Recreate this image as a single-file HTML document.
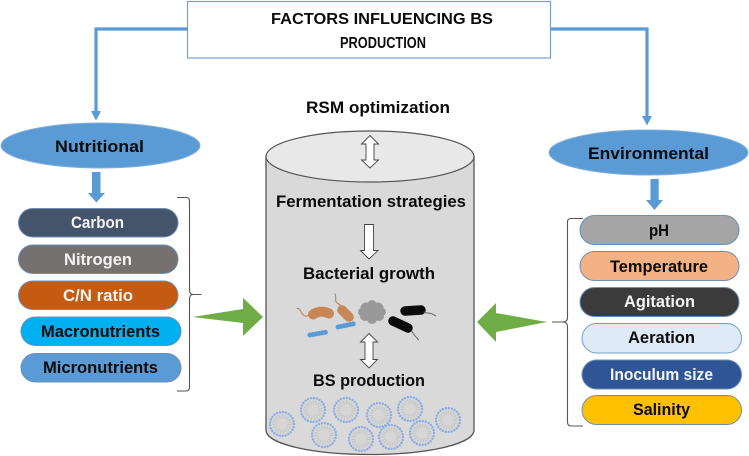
<!DOCTYPE html>
<html>
<head>
<meta charset="utf-8">
<style>
html,body{margin:0;padding:0;background:#fff;width:749px;height:456px;overflow:hidden}
svg{display:block}
text{font-family:"Liberation Sans",sans-serif;font-weight:bold;font-size:17px}
.w{fill:#f4f4f4}
.k{fill:#0b0b0b}
.t{font-size:16px}
</style>
</head>
<body>
<svg width="749" height="456" viewBox="0 0 749 456" xmlns="http://www.w3.org/2000/svg">
<rect width="749" height="456" fill="#fff"/>

<!-- connectors -->
<path d="M187 29H96V113M550 29H647V118" fill="none" stroke="#5b9bd5" stroke-width="3.200"/>
<path d="M91 111H101L96 120.500Z M642 116H652L647 125.500Z" fill="#5b9bd5"/>

<!-- title -->
<rect x="187.500" y="1.500" width="363" height="56.500" fill="#fff" stroke="#7a9fce" stroke-width="1.200"/>
<text x="271" y="24" textLength="222" lengthAdjust="spacingAndGlyphs" class="k t">FACTORS INFLUENCING  BS</text>
<text x="340" y="48" textLength="86" lengthAdjust="spacingAndGlyphs" class="k t">PRODUCTION</text>

<!-- ellipses -->
<ellipse cx="100.500" cy="145.500" rx="99.500" ry="22.500" fill="#5b9bd5" stroke="#7fb0dc" stroke-width="1"/>
<ellipse cx="648.500" cy="152.500" rx="99.500" ry="22.500" fill="#5b9bd5" stroke="#7fb0dc" stroke-width="1"/>
<text x="55" y="152" textLength="89" lengthAdjust="spacingAndGlyphs" class="k">Nutritional</text>
<text x="588" y="159" textLength="121" lengthAdjust="spacingAndGlyphs" class="k">Environmental</text>

<!-- block arrows -->
<path d="M92 172H100.500V193H105L96.300 202.500L88 193H92Z" fill="#5b9bd5"/>
<path d="M650.500 179H658.700V200H663L654.500 210L646 200H650.500Z" fill="#5b9bd5"/>

<!-- left pills -->
<rect x="18.500" y="208.500" width="159.500" height="28.500" rx="14.250" fill="#44546a" stroke="#6f8fb5" stroke-width="1"/>
<rect x="18.500" y="245" width="159.500" height="28.500" rx="14.250" fill="#767171" stroke="#6f8fb5" stroke-width="1"/>
<rect x="18.500" y="281" width="159.500" height="28.500" rx="14.250" fill="#c55a11" stroke="#6f8fb5" stroke-width="1"/>
<rect x="21" y="317" width="160" height="28.500" rx="14.250" fill="#00b0f0" stroke="#6f8fb5" stroke-width="1"/>
<rect x="21" y="353.500" width="160" height="28.500" rx="14.250" fill="#5b9bd5" stroke="#6f8fb5" stroke-width="1"/>
<text x="71" y="228" textLength="53" lengthAdjust="spacingAndGlyphs" class="w">Carbon</text>
<text x="64" y="265" textLength="68" lengthAdjust="spacingAndGlyphs" class="w">Nitrogen</text>
<text x="63" y="301" textLength="70" lengthAdjust="spacingAndGlyphs" class="w">C/N ratio</text>
<text x="41" y="337" textLength="119" lengthAdjust="spacingAndGlyphs" class="k">Macronutrients</text>
<text x="43" y="373" textLength="115" lengthAdjust="spacingAndGlyphs" class="k">Micronutrients</text>

<!-- right pills -->
<rect x="580" y="215.500" width="159" height="29" rx="14.500" fill="#a5a5a5" stroke="#6f8fb5" stroke-width="1"/>
<rect x="580" y="251.500" width="159" height="29" rx="14.500" fill="#f4b183" stroke="#6f8fb5" stroke-width="1"/>
<rect x="580" y="287.500" width="159" height="29" rx="14.500" fill="#3b3b3b" stroke="#6f8fb5" stroke-width="1"/>
<rect x="582" y="323.500" width="159.500" height="29.500" rx="14.700" fill="#deebf7" stroke="#6f9fd0" stroke-width="1"/>
<rect x="582" y="360" width="159.500" height="29" rx="14.500" fill="#2f5597" stroke="#6f8fb5" stroke-width="1"/>
<rect x="582" y="395.500" width="159.500" height="29" rx="14.500" fill="#ffc000" stroke="#6f8fb5" stroke-width="1"/>
<text x="649" y="236" textLength="20" lengthAdjust="spacingAndGlyphs" class="k">pH</text>
<text x="610" y="272" textLength="98" lengthAdjust="spacingAndGlyphs" class="k">Temperature</text>
<text x="624" y="307" textLength="71" lengthAdjust="spacingAndGlyphs" class="w">Agitation</text>
<text x="628" y="343" textLength="67" lengthAdjust="spacingAndGlyphs" class="k">Aeration</text>
<text x="610" y="380" textLength="103" lengthAdjust="spacingAndGlyphs" class="w">Inoculum size</text>
<text x="633" y="415" textLength="57" lengthAdjust="spacingAndGlyphs" class="k">Salinity</text>

<!-- braces -->
<path d="M177 197.500H186Q189.500 197.500 189.500 201V290Q189.500 294.500 193 294.500H201.500M189.500 299V387Q189.500 391 186 391H177M193 294.500Q189.500 294.500 189.500 299" fill="none" stroke="#555" stroke-width="1.100"/>
<path d="M583 218.500H571Q567.500 218.500 567.500 222V317Q567.500 322 563 322H552M567.500 327V422Q567.500 426 571 426H583M563 322Q567.500 322 567.500 327" fill="none" stroke="#555" stroke-width="1.100"/>

<!-- green arrows -->
<path d="M192.500 317L243 309V297.700L263 317L243 336V323Z" fill="#70ad47"/>
<path d="M547 322L496 313V303L477 322L496 342V332Z" fill="#70ad47"/>

<!-- cylinder -->
<path d="M266 156.500V430C266 444 312 454.500 370 454.500C428 454.500 474 444 474 430V156.500Z" fill="#d9d9d9" stroke="#555" stroke-width="1.300"/>
<ellipse cx="370" cy="156.500" rx="104" ry="25.500" fill="#e8e8e8" stroke="#555" stroke-width="1.200"/>

<!-- cylinder labels -->
<text x="306" y="113" textLength="144" lengthAdjust="spacingAndGlyphs" class="k">RSM optimization</text>
<text x="276" y="207" textLength="190" lengthAdjust="spacingAndGlyphs" class="k">Fermentation strategies</text>
<text x="303" y="279" textLength="132" lengthAdjust="spacingAndGlyphs" class="k">Bacterial growth</text>
<text x="313" y="386" textLength="112" lengthAdjust="spacingAndGlyphs" class="k">BS production</text>

<!-- white arrows -->
<path d="M370 135.500L378.500 144H374V160H378.500L370 168L361.500 160H366V144H361.500Z" fill="#fff" stroke="#444" stroke-width="0.900"/>
<path d="M364.500 224.500H373.500V250.500H378L369 259L360.500 250.500H364.500Z" fill="#fff" stroke="#444" stroke-width="0.900"/>
<path d="M369 333.500L377.500 342H373V359.500H377.500L369 368L360.500 359.500H365V342H360.500Z" fill="#fff" stroke="#444" stroke-width="0.900"/>

<!-- bacteria -->
<g fill="none" stroke-linecap="round">
  <path d="M297 308.500C301 308 301 315 305 316C307 316.500 308 315 310 315" stroke="#b98055" stroke-width="1.100"/>
  <path d="M313 314.500C318 311 324 311 329 313.500" stroke="#c68656" stroke-width="10"/>
  <path d="M335 294C337 297 334 301 337 303C339 304 340 305 341 306" stroke="#b98055" stroke-width="1.100"/>
  <path d="M342 310C344 312 347 315 349 317" stroke="#c68656" stroke-width="9.500"/>
  <path d="M310 335L327 332" stroke="#5b9bd5" stroke-width="5" stroke-dasharray="0.100 3"/>
  <path d="M338 327L355 323.500" stroke="#5b9bd5" stroke-width="5" stroke-dasharray="0.100 3"/>
  <path d="M405 311L421 310" stroke="#0a0a0a" stroke-width="9.500"/>
  <path d="M424 312C428 314 431 312 435.500 316" stroke="#666" stroke-width="1"/>
  <path d="M393 321L408 328" stroke="#0a0a0a" stroke-width="9.500"/>
  <path d="M412 331C413 335 416 336 418.500 340" stroke="#666" stroke-width="1"/>
</g>
<g fill="#999">
  <circle cx="372" cy="312" r="9"/><circle cx="366" cy="308" r="5.500"/><circle cx="378" cy="308" r="5.500"/>
  <circle cx="365" cy="316" r="5"/><circle cx="379" cy="316" r="5"/><circle cx="372" cy="319" r="5"/><circle cx="372" cy="304.500" r="4.500"/><circle cx="362" cy="312" r="4"/><circle cx="382" cy="312" r="4"/>
</g>

<!-- micelles -->
<g fill="#d6d6d6" stroke="#8eaee3" stroke-width="2.400" stroke-dasharray="0.100 2.900" stroke-linecap="round">
  <circle cx="282" cy="424" r="12"/>
  <circle cx="313" cy="410" r="12"/>
  <circle cx="324" cy="435" r="12"/>
  <circle cx="346" cy="410" r="12"/>
  <circle cx="361" cy="439" r="12"/>
  <circle cx="379" cy="415" r="12"/>
  <circle cx="391" cy="437" r="12"/>
  <circle cx="410" cy="409" r="12"/>
  <circle cx="422" cy="433" r="12"/>
  <circle cx="448" cy="420" r="12"/>
</g>
<g fill="none" stroke="#c4c4c4" stroke-width="4" stroke-dasharray="1 1.500">
  <circle cx="282" cy="424" r="7.500"/><circle cx="313" cy="410" r="7.500"/><circle cx="324" cy="435" r="7.500"/>
  <circle cx="346" cy="410" r="7.500"/><circle cx="361" cy="439" r="7.500"/><circle cx="379" cy="415" r="7.500"/>
  <circle cx="391" cy="437" r="7.500"/><circle cx="410" cy="409" r="7.500"/><circle cx="422" cy="433" r="7.500"/><circle cx="448" cy="420" r="7.500"/>
</g>
</svg>
</body>
</html>
